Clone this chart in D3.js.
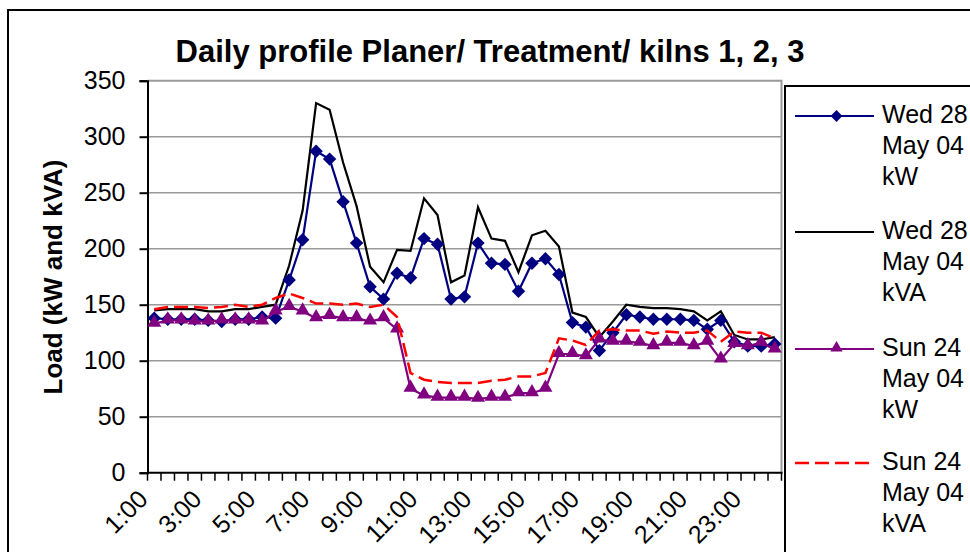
<!DOCTYPE html>
<html>
<head>
<meta charset="utf-8">
<script src="https://cdn.jsdelivr.net/npm/d3@7"></script>
<style>
  html, body { margin: 0; padding: 0; background: #fff; }
  svg { display: block; font-family: "Liberation Sans", Arial, sans-serif; }
</style>
</head>
<body>
<svg id="chart" width="970" height="552"></svg>
<script>
// ---- data ----
const times = [];
for (let h = 1; h <= 24; h++) {
  times.push(h + ":00");
  if (h < 24) times.push(h + ":30");
}
const tickLabels = ["1:00","3:00","5:00","7:00","9:00","11:00","13:00","15:00","17:00","19:00","21:00","23:00"];
const yTicks = [0, 50, 100, 150, 200, 250, 300, 350];

const wedKW = [138,137,137,137,136,135,137,137,139,138,172,208,287,280,242,205,166,155,178,174,209,204,155,157,205,187,186,162,187,191,177,134,130,109,125,141,139,137,137,137,136,128,136,117,113,113,115];
const wedKVA = [145,146,146,146,144,144,146,146,148,150,185,234,330,324,277,238,184,170,199,198,245,230,170,176,237,209,207,179,212,216,202,143,139,121,135,150,148,147,147,146,144,136,144,123,119,119,121];
const sunKW = [133,136,136,135,135,136,136,136,135,144,148,144,138,140,138,138,135,138,128,75,69,67,67,67,66,67,67,71,71,75,106,106,104,119,117,117,116,113,116,116,113,117,101,115,113,116,110];
const sunKVA = [146,148,148,148,147,148,150,148,150,156,160,156,151,151,150,151,148,150,139,89,83,81,80,80,80,82,83,86,86,89,120,118,114,127,128,127,127,124,126,125,125,127,117,126,125,125,120];

const seriesNames = [
  ["Wed 28", "May 04", "kW"],
  ["Wed 28", "May 04", "kVA"],
  ["Sun 24", "May 04", "kW"],
  ["Sun 24", "May 04", "kVA"]
];

(function () {
// ---- layout ----
const svg = d3.select("#chart");
const pL = 147.5, pR = 781.5, pT = 80.7, pB = 472.7;
const x = d3.scaleBand().domain(times).range([pL, pR]).paddingInner(0).paddingOuter(0);
const y = d3.scaleLinear().domain([0, 350]).range([pB, pT]);
const bw = x.bandwidth();
const cx = t => x(t) + bw / 2;

// outer chart border
svg.append("rect").attr("x", 8).attr("y", 10).attr("width", 1000).attr("height", 600)
  .attr("fill", "#fff").attr("stroke", "#000").attr("stroke-width", 2);

// title
svg.append("text").attr("x", 490).attr("y", 62).attr("text-anchor", "middle")
  .attr("font-size", 31).attr("font-weight", "bold").attr("fill", "#000")
  .text("Daily profile Planer/ Treatment/ kilns 1, 2, 3");

// gridlines
svg.append("g").selectAll("line").data(yTicks.filter(v => v > 0 && v < 350)).join("line")
  .attr("x1", pL).attr("x2", pR).attr("y1", d => y(d)).attr("y2", d => y(d))
  .attr("stroke", "#999").attr("stroke-width", 1.6);

// plot border top/right (gray)
svg.append("path").attr("d", `M${pL},${y(350)}H${pR}V${pB}`)
  .attr("fill", "none").attr("stroke", "#999").attr("stroke-width", 2);

// y axis
const yAxis = svg.append("g").attr("transform", `translate(${pL},0)`)
  .call(d3.axisLeft(y).tickValues(yTicks).tickSize(8).tickPadding(14).tickFormat(d3.format("d")));
yAxis.select(".domain").attr("stroke", "#000").attr("stroke-width", 2);
yAxis.selectAll(".tick line").attr("stroke", "#000").attr("stroke-width", 2);
yAxis.selectAll(".tick text").attr("font-size", 25).attr("fill", "#000")
  .attr("font-family", "Liberation Sans, Arial, sans-serif");

// x axis baseline
svg.append("line").attr("x1", pL).attr("x2", pR + 1).attr("y1", pB).attr("y2", pB)
  .attr("stroke", "#000").attr("stroke-width", 2);
// tick marks at band boundaries
const boundaries = times.map(t => x(t)).concat([x(times[times.length - 1]) + bw]);
svg.append("g").selectAll("line").data(boundaries).join("line")
  .attr("x1", d => d).attr("x2", d => d).attr("y1", pB).attr("y2", pB + 8)
  .attr("stroke", "#000").attr("stroke-width", 1.5);
// x labels
svg.append("g").selectAll("text").data(tickLabels).join("text")
  .attr("transform", d => `translate(${cx(d) - 5},${pB + 28}) rotate(-45)`)
  .attr("text-anchor", "end").attr("font-size", 25).attr("fill", "#000")
  .text(d => d);

// y axis title
svg.append("text").attr("transform", `translate(62,277) rotate(-90)`)
  .attr("text-anchor", "middle").attr("font-size", 26).attr("font-weight", "bold")
  .attr("fill", "#000").text("Load (kW and kVA)");

// ---- series ----
const line = d3.line().x((d, i) => cx(times[i])).y(d => y(d));
const diamond = d3.symbol().type(d3.symbolDiamond2).size(115);
const triangle = d3.symbol().type(d3.symbolTriangle).size(85);

function drawLine(data, color, width, dash) {
  svg.append("path").datum(data).attr("d", line).attr("fill", "none")
    .attr("stroke", color).attr("stroke-width", width)
    .attr("stroke-dasharray", dash || null).attr("stroke-linejoin", "miter");
}

drawLine(wedKVA, "#000", 2.2);
drawLine(wedKW, "#000080", 2.2);
svg.append("g").selectAll("path").data(wedKW).join("path")
  .attr("transform", (d, i) => `translate(${cx(times[i])},${y(d)})`)
  .attr("d", diamond).attr("fill", "#000080");
drawLine(sunKW, "#800080", 2.2);
svg.append("g").selectAll("path").data(sunKW).join("path")
  .attr("transform", (d, i) => `translate(${cx(times[i])},${y(d) - 1})`)
  .attr("d", triangle).attr("fill", "#800080");
drawLine(sunKVA, "#ff0000", 2.5, "14,6");

// ---- legend ----
svg.append("rect").attr("x", 785).attr("y", 86).attr("width", 300).attr("height", 600)
  .attr("fill", "#fff").attr("stroke", "#000").attr("stroke-width", 2);
const legY = [116, 232, 349, 463];
const legStyles = [
  { color: "#000080", w: 2, dash: null, marker: "diamond" },
  { color: "#000", w: 2, dash: null, marker: null },
  { color: "#800080", w: 2, dash: null, marker: "triangle" },
  { color: "#ff0000", w: 2.5, dash: "14,6", marker: null }
];
legStyles.forEach((s, k) => {
  const g = svg.append("g");
  g.append("line").attr("x1", 795).attr("x2", 874).attr("y1", legY[k]).attr("y2", legY[k])
    .attr("stroke", s.color).attr("stroke-width", s.w).attr("stroke-dasharray", s.dash);
  if (s.marker === "diamond") {
    g.append("path").attr("transform", `translate(836.5,${legY[k]})`)
      .attr("d", d3.symbol().type(d3.symbolDiamond2).size(90)).attr("fill", s.color);
  } else if (s.marker === "triangle") {
    g.append("path").attr("transform", `translate(836.5,${legY[k] - 1})`)
      .attr("d", d3.symbol().type(d3.symbolTriangle).size(65)).attr("fill", s.color);
  }
  seriesNames[k].forEach((txt, j) => {
    g.append("text").attr("x", 882).attr("y", legY[k] + 7 + j * 31)
      .attr("font-size", 25).attr("fill", "#000").text(txt);
  });
});
})();
</script>
</body>
</html>
